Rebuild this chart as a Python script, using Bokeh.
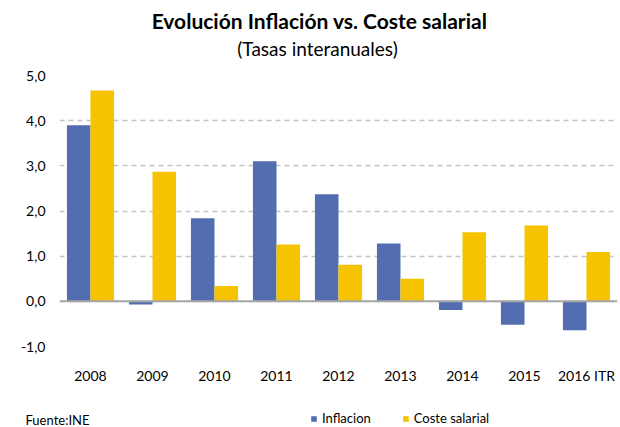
from bokeh.plotting import figure
from bokeh.layouts import column
from bokeh.models import (FactorRange, Range1d, ColumnDataSource, Span, Label,
                          Legend, LegendItem, CustomJSTickFormatter, FixedTicker)
from bokeh.transform import dodge
from bokeh.embed import file_html
from bokeh.resources import INLINE

years = ["2008", "2009", "2010", "2011", "2012", "2013", "2014", "2015", "2016 ITR"]
inflacion = [3.90, -0.07, 1.84, 3.10, 2.37, 1.28, -0.19, -0.52, -0.64]
coste_salarial = [4.67, 2.87, 0.34, 1.26, 0.81, 0.50, 1.53, 1.68, 1.09]
y_ticks = [-1, 0, 1, 2, 3, 4, 5]
series_names = ["Inflacion", "Coste salarial"]

title_text = "Evolución Inflación vs. Coste salarial"
subtitle_text = "(Tasas interanuales)"
source_text = "Fuente:INE"

BLUE = "#536EB0"
YELLOW = "#F5C300"
FONT = "Lato"
W = 620
LEFT, RIGHT = 59, 3          # frame borders of the main chart
NAN = float("nan")


def bare(height):
    # header/footer figure without axes whose frame fills its whole canvas
    # (not aligned with the chart's frame): x = page pixels, y = pixels from top
    fig = figure(width=W, height=height, x_range=Range1d(0, W),
                 y_range=Range1d(height, 0),
                 x_axis_location=None, y_axis_location=None,
                 output_backend="svg", toolbar_location=None, min_border=0)
    fig.frame_align = False
    fig.grid.grid_line_color = None
    fig.outline_line_color = None
    fig.background_fill_color = "white"
    fig.border_fill_color = "white"
    return fig


# ---- header (title + subtitle)
header = bare(62)
header.add_layout(Label(x=319, y=20, text=title_text, text_font=FONT,
                        text_font_size="21px", text_font_style="bold",
                        text_align="center", text_baseline="middle",
                        text_color="#000000"))
header.add_layout(Label(x=317, y=48, text=subtitle_text, text_font=FONT,
                        text_font_size="19px", text_align="center",
                        text_baseline="middle", text_color="#000000"))

# ---- main chart
src = ColumnDataSource(dict(years=years, inflacion=inflacion, coste=coste_salarial))

p = figure(width=W, height=345, x_range=FactorRange(*years, range_padding=0),
           y_range=Range1d(-1, 5), output_backend="svg", toolbar_location=None,
           min_border_left=LEFT, min_border_right=RIGHT, min_border_top=13,
           min_border_bottom=61)
p.outline_line_color = None
p.background_fill_color = "white"
p.border_fill_color = "white"

p.vbar(x=dodge("years", -0.19, range=p.x_range), top="inflacion", width=0.38,
       source=src, fill_color=BLUE, line_color=None)
p.vbar(x=dodge("years", 0.19, range=p.x_range), top="coste", width=0.38,
       source=src, fill_color=YELLOW, line_color=None)

p.xgrid.grid_line_color = None
p.ygrid.grid_line_color = "#c4c4c4"
p.ygrid.grid_line_dash = "5 4"
p.ygrid.grid_line_width = 1.5

p.add_layout(Span(location=0, dimension="width", line_color="#a6a6a6", line_width=2))

p.yaxis.ticker = FixedTicker(ticks=y_ticks)
p.yaxis.formatter = CustomJSTickFormatter(code="return tick.toFixed(1).replace('.', ',');")
for ax in (p.xaxis[0], p.yaxis[0]):
    ax.axis_line_color = None
    ax.major_tick_line_color = None
    ax.minor_tick_line_color = None
    ax.major_tick_in = 0
    ax.major_tick_out = 0
    ax.major_label_text_font = FONT
    ax.major_label_text_font_size = "14px"
    ax.major_label_text_color = "#000000"
p.yaxis.major_label_standoff = 14
p.xaxis.major_label_standoff = 20

# ---- footer (source + legend); legend swatches come from NaN (undrawn) bars
footer = bare(20)
key = ColumnDataSource(dict(x=[NAN], top=[NAN]))
f1 = footer.vbar(x="x", top="top", width=1, source=key, fill_color=BLUE, line_color=None)
f2 = footer.vbar(x="x", top="top", width=1, source=key, fill_color=YELLOW, line_color=None)
footer.add_layout(Label(x=25, y=12, text=source_text, text_font=FONT,
                        text_font_size="13px", text_align="left",
                        text_baseline="middle", text_color="#000000"))
legend = Legend(items=[LegendItem(label=series_names[0], renderers=[f1]),
                       LegendItem(label=series_names[1], renderers=[f2])],
                location=(310, 1), orientation="horizontal",
                glyph_width=7, glyph_height=7, label_height=14, label_standoff=5,
                spacing=31, padding=0, margin=0, border_line_color=None,
                background_fill_alpha=0, label_text_font=FONT,
                label_text_font_size="13px", label_text_color="#000000")
footer.add_layout(legend, "center")

layout = column(header, p, footer, spacing=0)
open("out.html", "w").write(file_html(layout, INLINE))
